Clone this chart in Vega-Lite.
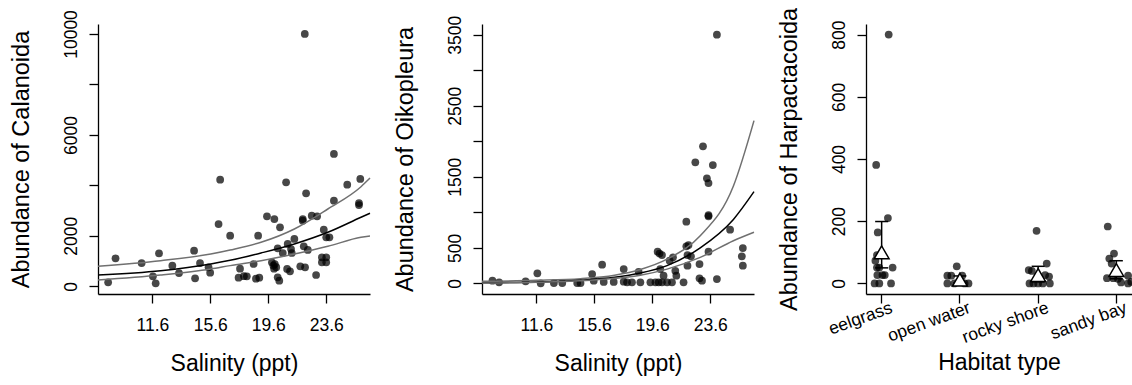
{
 "$schema": "https://vega.github.io/schema/vega-lite/v6.json",
 "background": "white",
 "padding": {"left": 8, "top": 7, "right": 0, "bottom": 0},
 "bounds": "flush",
 "spacing": 112,
 "config": {
  "view": {"stroke": null},
  "font": "Liberation Sans",
  "axis": {"grid": false, "domainColor": "black", "tickColor": "black", "labelColor": "black", "titleColor": "black", "domainWidth": 1.3, "tickWidth": 1.3, "tickSize": 9, "labelFont": "Liberation Sans", "titleFont": "Liberation Sans", "labelFontSize": 17.5, "titleFontSize": 23, "titleFontWeight": "normal", "labelPadding": 13, "labelOverlap": false},
  "axisY": {"labelAngle": -90, "labelAlign": "center", "labelBaseline": "bottom", "labelPadding": 9, "titlePadding": 29, "titleFontSize": 23.5},
  "axisX": {"titlePadding": 19}
 },
 "datasets": {
  "calanoida": [
   {"salinity": 8.55, "abundance": 159}, {"salinity": 9.06, "abundance": 1110}, {"salinity": 10.86, "abundance": 923},
   {"salinity": 11.64, "abundance": 396}, {"salinity": 11.83, "abundance": 119}, {"salinity": 12.06, "abundance": 1308},
   {"salinity": 12.98, "abundance": 817}, {"salinity": 13.44, "abundance": 527}, {"salinity": 14.48, "abundance": 1411},
   {"salinity": 14.55, "abundance": 317}, {"salinity": 14.89, "abundance": 923}, {"salinity": 15.48, "abundance": 753},
   {"salinity": 15.59, "abundance": 539}, {"salinity": 16.17, "abundance": 2469}, {"salinity": 16.28, "abundance": 4225},
   {"salinity": 16.97, "abundance": 2006}, {"salinity": 17.65, "abundance": 700}, {"salinity": 17.55, "abundance": 340},
   {"salinity": 17.92, "abundance": 400}, {"salinity": 18.12, "abundance": 396}, {"salinity": 18.59, "abundance": 884},
   {"salinity": 18.75, "abundance": 300}, {"salinity": 18.98, "abundance": 340}, {"salinity": 18.9, "abundance": 2006},
   {"salinity": 19.51, "abundance": 2774}, {"salinity": 20.02, "abundance": 2667}, {"salinity": 20.41, "abundance": 2338},
   {"salinity": 19.85, "abundance": 950}, {"salinity": 19.95, "abundance": 820}, {"salinity": 20.05, "abundance": 880},
   {"salinity": 20.15, "abundance": 760}, {"salinity": 20.0, "abundance": 700}, {"salinity": 20.25, "abundance": 1506},
   {"salinity": 20.25, "abundance": 357}, {"salinity": 20.36, "abundance": 222}, {"salinity": 20.6, "abundance": 1320},
   {"salinity": 20.83, "abundance": 4122}, {"salinity": 20.9, "abundance": 686}, {"salinity": 21.1, "abundance": 594},
   {"salinity": 20.94, "abundance": 1677}, {"salinity": 21.17, "abundance": 1478}, {"salinity": 21.22, "abundance": 1320},
   {"salinity": 21.4, "abundance": 1875}, {"salinity": 21.81, "abundance": 793}, {"salinity": 22.14, "abundance": 753},
   {"salinity": 21.98, "abundance": 2667}, {"salinity": 21.98, "abundance": 2600}, {"salinity": 22.05, "abundance": 1585},
   {"salinity": 22.12, "abundance": 10000}, {"salinity": 22.21, "abundance": 3686}, {"salinity": 22.33, "abundance": 1439},
   {"salinity": 22.6, "abundance": 2798}, {"salinity": 22.97, "abundance": 2774}, {"salinity": 22.9, "abundance": 448},
   {"salinity": 23.43, "abundance": 2243}, {"salinity": 23.6, "abundance": 1942}, {"salinity": 23.82, "abundance": 1942},
   {"salinity": 23.3, "abundance": 1149}, {"salinity": 23.6, "abundance": 1149}, {"salinity": 23.3, "abundance": 951},
   {"salinity": 23.6, "abundance": 951}, {"salinity": 24.13, "abundance": 5244}, {"salinity": 24.13, "abundance": 3393},
   {"salinity": 25.05, "abundance": 4027}, {"salinity": 25.95, "abundance": 4253}, {"salinity": 25.86, "abundance": 3222},
   {"salinity": 25.86, "abundance": 3300}
  ],
  "calanoidaFit": [
   {"salinity": 7.85, "abundance": 793, "band": "upper"}, {"salinity": 12.17, "abundance": 1016, "band": "upper"},
   {"salinity": 15.63, "abundance": 1280, "band": "upper"}, {"salinity": 16.97, "abundance": 1440, "band": "upper"},
   {"salinity": 19.1, "abundance": 1744, "band": "upper"}, {"salinity": 21.4, "abundance": 2271, "band": "upper"},
   {"salinity": 23.71, "abundance": 3064, "band": "upper"}, {"salinity": 26.0, "abundance": 3948, "band": "upper"},
   {"salinity": 26.62, "abundance": 4290, "band": "upper"},
   {"salinity": 7.85, "abundance": 448, "band": "fit"}, {"salinity": 12.17, "abundance": 618, "band": "fit"},
   {"salinity": 15.63, "abundance": 884, "band": "fit"}, {"salinity": 16.97, "abundance": 1030, "band": "fit"},
   {"salinity": 19.1, "abundance": 1320, "band": "fit"}, {"salinity": 21.4, "abundance": 1677, "band": "fit"},
   {"salinity": 23.71, "abundance": 2140, "band": "fit"}, {"salinity": 26.0, "abundance": 2735, "band": "fit"},
   {"salinity": 26.62, "abundance": 2893, "band": "fit"},
   {"salinity": 7.85, "abundance": 250, "band": "lower"}, {"salinity": 12.17, "abundance": 448, "band": "lower"},
   {"salinity": 15.63, "abundance": 686, "band": "lower"}, {"salinity": 16.97, "abundance": 820, "band": "lower"},
   {"salinity": 19.1, "abundance": 1016, "band": "lower"}, {"salinity": 21.4, "abundance": 1280, "band": "lower"},
   {"salinity": 23.71, "abundance": 1585, "band": "lower"}, {"salinity": 26.0, "abundance": 1942, "band": "lower"},
   {"salinity": 26.62, "abundance": 1990, "band": "lower"}
  ],
  "oikopleura": [
   {"salinity": 8.57, "abundance": 37}, {"salinity": 9.03, "abundance": 14}, {"salinity": 10.86, "abundance": 28},
   {"salinity": 11.67, "abundance": 141}, {"salinity": 11.9, "abundance": 0}, {"salinity": 12.81, "abundance": 4},
   {"salinity": 13.39, "abundance": 4}, {"salinity": 14.42, "abundance": 4}, {"salinity": 14.65, "abundance": 4},
   {"salinity": 15.45, "abundance": 131}, {"salinity": 15.56, "abundance": 37}, {"salinity": 16.14, "abundance": 262},
   {"salinity": 16.25, "abundance": 20}, {"salinity": 16.94, "abundance": 20}, {"salinity": 17.63, "abundance": 201},
   {"salinity": 17.63, "abundance": 23}, {"salinity": 17.86, "abundance": 14}, {"salinity": 18.2, "abundance": 14},
   {"salinity": 18.66, "abundance": 163}, {"salinity": 18.78, "abundance": 14}, {"salinity": 19.47, "abundance": 14},
   {"salinity": 19.82, "abundance": 14}, {"salinity": 20.04, "abundance": 14}, {"salinity": 20.27, "abundance": 14},
   {"salinity": 20.62, "abundance": 14}, {"salinity": 20.96, "abundance": 14}, {"salinity": 21.76, "abundance": 14},
   {"salinity": 19.97, "abundance": 445}, {"salinity": 20.1, "abundance": 420}, {"salinity": 20.27, "abundance": 398},
   {"salinity": 21.03, "abundance": 366}, {"salinity": 20.8, "abundance": 318}, {"salinity": 20.15, "abundance": 201},
   {"salinity": 21.19, "abundance": 177}, {"salinity": 20.38, "abundance": 107}, {"salinity": 21.26, "abundance": 107},
   {"salinity": 21.95, "abundance": 867}, {"salinity": 22.1, "abundance": 539}, {"salinity": 21.95, "abundance": 521},
   {"salinity": 22.03, "abundance": 398}, {"salinity": 22.27, "abundance": 380}, {"salinity": 22.03, "abundance": 248},
   {"salinity": 22.86, "abundance": 272}, {"salinity": 22.86, "abundance": 70}, {"salinity": 23.03, "abundance": 37},
   {"salinity": 24.06, "abundance": 61}, {"salinity": 23.48, "abundance": 445}, {"salinity": 23.48, "abundance": 943},
   {"salinity": 23.48, "abundance": 960}, {"salinity": 23.1, "abundance": 1929}, {"salinity": 22.57, "abundance": 1703},
   {"salinity": 23.78, "abundance": 1665}, {"salinity": 23.37, "abundance": 1478}, {"salinity": 23.48, "abundance": 1412},
   {"salinity": 24.06, "abundance": 3500}, {"salinity": 24.97, "abundance": 755}, {"salinity": 25.85, "abundance": 497},
   {"salinity": 25.78, "abundance": 380}, {"salinity": 25.85, "abundance": 248}
  ],
  "oikopleuraFit": [
   {"salinity": 7.85, "abundance": 28, "band": "upper"}, {"salinity": 11.6, "abundance": 42, "band": "upper"},
   {"salinity": 14.65, "abundance": 65, "band": "upper"}, {"salinity": 17.0, "abundance": 115, "band": "upper"},
   {"salinity": 18.78, "abundance": 195, "band": "upper"}, {"salinity": 20.62, "abundance": 340, "band": "upper"},
   {"salinity": 22.91, "abundance": 670, "band": "upper"}, {"salinity": 25.2, "abundance": 1370, "band": "upper"},
   {"salinity": 26.62, "abundance": 2290, "band": "upper"},
   {"salinity": 7.85, "abundance": 10, "band": "fit"}, {"salinity": 11.6, "abundance": 20, "band": "fit"},
   {"salinity": 14.65, "abundance": 45, "band": "fit"}, {"salinity": 17.0, "abundance": 85, "band": "fit"},
   {"salinity": 18.78, "abundance": 145, "band": "fit"}, {"salinity": 20.62, "abundance": 250, "band": "fit"},
   {"salinity": 22.91, "abundance": 500, "band": "fit"}, {"salinity": 25.2, "abundance": 900, "band": "fit"},
   {"salinity": 26.62, "abundance": 1290, "band": "fit"},
   {"salinity": 7.85, "abundance": 5, "band": "lower"}, {"salinity": 11.6, "abundance": 15, "band": "lower"},
   {"salinity": 14.65, "abundance": 35, "band": "lower"}, {"salinity": 17.0, "abundance": 70, "band": "lower"},
   {"salinity": 18.78, "abundance": 115, "band": "lower"}, {"salinity": 20.62, "abundance": 200, "band": "lower"},
   {"salinity": 22.91, "abundance": 365, "band": "lower"}, {"salinity": 25.2, "abundance": 600, "band": "lower"},
   {"salinity": 26.62, "abundance": 720, "band": "lower"}
  ],
  "harpactacoida": [
   {"habitat": "eelgrass", "jitter": -0.07, "abundance": 381}, {"habitat": "eelgrass", "jitter": 0.09, "abundance": 800},
   {"habitat": "eelgrass", "jitter": 0.08, "abundance": 210}, {"habitat": "eelgrass", "jitter": -0.05, "abundance": 164},
   {"habitat": "eelgrass", "jitter": -0.06, "abundance": 91}, {"habitat": "eelgrass", "jitter": -0.08, "abundance": 73},
   {"habitat": "eelgrass", "jitter": -0.06, "abundance": 51}, {"habitat": "eelgrass", "jitter": -0.03, "abundance": 51},
   {"habitat": "eelgrass", "jitter": 0.14, "abundance": 51}, {"habitat": "eelgrass", "jitter": -0.055, "abundance": 27},
   {"habitat": "eelgrass", "jitter": 0.01, "abundance": 27}, {"habitat": "eelgrass", "jitter": 0.04, "abundance": 27},
   {"habitat": "eelgrass", "jitter": -0.09, "abundance": 0}, {"habitat": "eelgrass", "jitter": -0.03, "abundance": 0},
   {"habitat": "eelgrass", "jitter": 0.12, "abundance": 0},
   {"habitat": "open water", "jitter": -0.04, "abundance": 55}, {"habitat": "open water", "jitter": -0.16, "abundance": 25},
   {"habitat": "open water", "jitter": -0.11, "abundance": 25}, {"habitat": "open water", "jitter": 0.03, "abundance": 25},
   {"habitat": "open water", "jitter": -0.16, "abundance": 0}, {"habitat": "open water", "jitter": -0.07, "abundance": 0},
   {"habitat": "open water", "jitter": 0.06, "abundance": 0}, {"habitat": "open water", "jitter": 0.11, "abundance": 0},
   {"habitat": "rocky shore", "jitter": -0.02, "abundance": 169}, {"habitat": "rocky shore", "jitter": 0.11, "abundance": 64},
   {"habitat": "rocky shore", "jitter": -0.12, "abundance": 43}, {"habitat": "rocky shore", "jitter": -0.08, "abundance": 40},
   {"habitat": "rocky shore", "jitter": 0.09, "abundance": 27}, {"habitat": "rocky shore", "jitter": 0.14, "abundance": 22},
   {"habitat": "rocky shore", "jitter": -0.11, "abundance": 0}, {"habitat": "rocky shore", "jitter": -0.06, "abundance": 0},
   {"habitat": "rocky shore", "jitter": 0.0, "abundance": 0}, {"habitat": "rocky shore", "jitter": 0.06, "abundance": 0},
   {"habitat": "rocky shore", "jitter": 0.15, "abundance": 0},
   {"habitat": "sandy bay", "jitter": -0.11, "abundance": 183}, {"habitat": "sandy bay", "jitter": -0.03, "abundance": 96},
   {"habitat": "sandy bay", "jitter": -0.09, "abundance": 80}, {"habitat": "sandy bay", "jitter": -0.06, "abundance": 64},
   {"habitat": "sandy bay", "jitter": -0.12, "abundance": 17}, {"habitat": "sandy bay", "jitter": -0.04, "abundance": 17},
   {"habitat": "sandy bay", "jitter": 0.02, "abundance": 15}, {"habitat": "sandy bay", "jitter": 0.15, "abundance": 25},
   {"habitat": "sandy bay", "jitter": 0.06, "abundance": 3}, {"habitat": "sandy bay", "jitter": 0.15, "abundance": 0},
   {"habitat": "sandy bay", "jitter": 0.19, "abundance": 5}
  ],
  "harpSummary": [
   {"habitat": "eelgrass", "mean": 100, "lower": 50, "upper": 199},
   {"habitat": "open water", "mean": 12, "lower": 2, "upper": 24},
   {"habitat": "rocky shore", "mean": 27, "lower": 5, "upper": 55},
   {"habitat": "sandy bay", "mean": 43, "lower": 15, "upper": 73}
  ]
 },
 "hconcat": [
  {
   "width": 272, "height": 270,
   "encoding": {
    "x": {"field": "salinity", "type": "quantitative", "scale": {"domain": [7.85, 26.62], "nice": false, "zero": false}, "axis": {"values": [11.6, 15.6, 19.6, 23.6], "format": ".1f", "title": "Salinity (ppt)", "labelOverlap": false}},
    "y": {"field": "abundance", "type": "quantitative", "scale": {"domain": [-305, 10396], "nice": false, "zero": false}, "axis": {"values": [0, 2000, 4000, 6000, 8000, 10000], "format": "d", "labelOverlap": false, "labelExpr": "datum.value == 4000 || datum.value == 8000 ? '' : datum.label", "title": "Abundance of Calanoida"}}
   },
   "layer": [
    {"data": {"name": "calanoida"}, "mark": {"type": "circle", "size": 60, "color": "black", "opacity": 0.72}},
    {"data": {"name": "calanoidaFit"}, "mark": {"type": "line", "interpolate": "monotone", "strokeWidth": 1.5},
     "encoding": {
      "detail": {"field": "band", "type": "nominal"},
      "color": {"field": "band", "type": "nominal", "scale": {"domain": ["upper", "fit", "lower"], "range": ["#707070", "#000000", "#707070"]}, "legend": null}
     }}
   ]
  },
  {
   "width": 272, "height": 270,
   "encoding": {
    "x": {"field": "salinity", "type": "quantitative", "scale": {"domain": [7.85, 26.62], "nice": false, "zero": false}, "axis": {"values": [11.6, 15.6, 19.6, 23.6], "format": ".1f", "title": "Salinity (ppt)", "labelOverlap": false}},
    "y": {"field": "abundance", "type": "quantitative", "scale": {"domain": [-150, 3650], "nice": false, "zero": false}, "axis": {"values": [0, 500, 1000, 1500, 2000, 2500, 3000, 3500], "format": "d", "labelOverlap": false, "labelExpr": "datum.value == 1000 || datum.value == 2000 || datum.value == 3000 ? '' : datum.label", "title": "Abundance of Oikopleura"}}
   },
   "layer": [
    {"data": {"name": "oikopleura"}, "mark": {"type": "circle", "size": 60, "color": "black", "opacity": 0.72}},
    {"data": {"name": "oikopleuraFit"}, "mark": {"type": "line", "interpolate": "monotone", "strokeWidth": 1.5},
     "encoding": {
      "detail": {"field": "band", "type": "nominal"},
      "color": {"field": "band", "type": "nominal", "scale": {"domain": ["upper", "fit", "lower"], "range": ["#707070", "#000000", "#707070"]}, "legend": null}
     }}
   ]
  },
  {
   "width": 266, "height": 270,
   "layer": [
    {"data": {"name": "harpactacoida"}, "mark": {"type": "circle", "size": 60, "color": "black", "opacity": 0.72},
     "encoding": {
      "x": {"field": "habitat", "type": "nominal", "scale": {"domain": ["eelgrass", "open water", "rocky shore", "sandy bay"], "paddingInner": 0.6, "paddingOuter": 0}, "axis": {"labelAngle": -20, "labelAlign": "right", "labelBaseline": "middle", "labelOffset": 10, "labelPadding": 4, "labelOverlap": false, "titlePadding": 6, "title": "Habitat type"}},
      "xOffset": {"field": "jitter", "type": "quantitative", "scale": {"domain": [-0.2, 0.2], "range": [0, 31.3]}},
      "y": {"field": "abundance", "type": "quantitative", "scale": {"domain": [-34, 834], "nice": false, "zero": false}, "axis": {"values": [0, 200, 400, 600, 800], "format": "d", "labelOverlap": false, "title": "Abundance of Harpactacoida"}}
     }},
    {"data": {"name": "harpSummary"}, "mark": {"type": "rule", "color": "black", "strokeWidth": 1.5},
     "encoding": {"x": {"field": "habitat", "type": "nominal"}, "y": {"field": "lower", "type": "quantitative"}, "y2": {"field": "upper"}}},
    {"data": {"name": "harpSummary"}, "mark": {"type": "tick", "color": "black", "size": 13, "thickness": 1.5, "opacity": 1},
     "encoding": {"x": {"field": "habitat", "type": "nominal"}, "y": {"field": "upper", "type": "quantitative"}}},
    {"data": {"name": "harpSummary"}, "mark": {"type": "tick", "color": "black", "size": 13, "thickness": 1.5, "opacity": 1},
     "encoding": {"x": {"field": "habitat", "type": "nominal"}, "y": {"field": "lower", "type": "quantitative"}}},
    {"data": {"name": "harpSummary"}, "mark": {"type": "point", "shape": "triangle-up", "filled": true, "fill": "white", "stroke": "black", "strokeWidth": 1.5, "size": 220, "opacity": 1},
     "encoding": {"x": {"field": "habitat", "type": "nominal"}, "y": {"field": "mean", "type": "quantitative"}}}
   ]
  }
 ]
}
